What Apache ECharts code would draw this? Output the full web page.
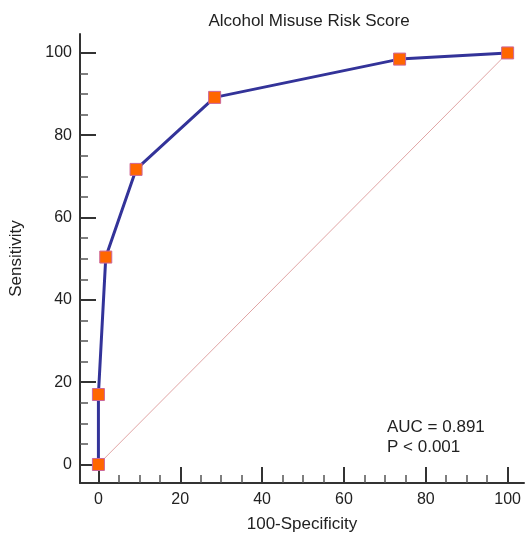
<!DOCTYPE html>
<html lang="en">
<head>
  <meta charset="UTF-8" />
  <title>Alcohol Misuse Risk Score</title>
  <script src="https://cdn.jsdelivr.net/npm/echarts@6.0.0/dist/echarts.min.js"></script>
  <style>
    html, body { margin: 0; padding: 0; background: #fff; }
    #chart { width: 526px; height: 533px; }
  </style>
</head>
<body>
  <div id="chart"></div>
  <script>
    // ROC points: [100-Specificity, Sensitivity]
    const rocX = [0, 0, 1.8, 9.2, 28.4, 73.6, 100];
    const rocY = [0, 17.0, 50.4, 71.7, 89.2, 98.5, 100];
    const diagonal = [[0, 0], [100, 100]];
    const majorTicks = [0, 20, 40, 60, 80, 100];
    const minorTicks = [5, 10, 15, 25, 30, 35, 45, 50, 55, 65, 70, 75, 85, 90, 95];
    const aucLines = ['AUC = 0.891', 'P < 0.001'];

    const font = 'Liberation Sans, Arial, sans-serif';
    const axisColor = '#333';

    function majorAxis(isX, name) {
      return {
        type: 'value',
        position: isX ? 'bottom' : 'left',
        min: -4.5,
        max: isX ? 104 : 104.6,
        name: name,
        nameLocation: 'middle',
        nameGap: isX ? 33 : 55,
        nameTextStyle: { fontFamily: font, fontSize: 17, color: '#222' },
        axisLine: { show: true, onZero: false, lineStyle: { color: axisColor, width: 2 } },
        axisTick: { show: true, inside: true, length: 16, customValues: majorTicks,
          lineStyle: { color: axisColor, width: 2 } },
        axisLabel: { customValues: majorTicks, margin: isX ? 9 : 8, fontFamily: font, fontSize: 16, color: '#222' },
        splitLine: { show: false }
      };
    }

    function minorAxis(isX) {
      return {
        type: 'value',
        position: isX ? 'bottom' : 'left',
        min: -4.5,
        max: isX ? 104 : 104.6,
        axisLine: { show: false, onZero: false },
        axisTick: { show: true, inside: true, length: 8, customValues: minorTicks,
          lineStyle: { color: '#555', width: 1.5 } },
        axisLabel: { show: false },
        splitLine: { show: false }
      };
    }

    const chart = echarts.init(document.getElementById('chart'));
    chart.setOption({
      animation: false,
      title: {
        text: 'Alcohol Misuse Risk Score',
        left: 304, top: 8, textAlign: 'center',
        textStyle: { fontFamily: font, fontSize: 17, fontWeight: 'normal', color: '#222' }
      },
      grid: { left: 80, right: 2, top: 34, bottom: 50, outerBoundsMode: 'none' },
      xAxis: [majorAxis(true, '100-Specificity'), minorAxis(true)],
      yAxis: [majorAxis(false, 'Sensitivity'), minorAxis(false)],
      series: [
        {
          type: 'line',
          data: diagonal,
          symbol: 'none',
          lineStyle: { color: '#e0a4a4', width: 1 },
          z: 1
        },
        {
          type: 'line',
          data: rocX.map((x, i) => [x, rocY[i]]),
          symbol: 'rect',
          symbolSize: 12,
          itemStyle: { color: '#ff6600', borderColor: '#cc6699', borderWidth: 1 },
          lineStyle: { color: '#333399', width: 3 },
          z: 3
        }
      ],
      graphic: [{
        type: 'text',
        left: 387, top: 417,
        style: {
          text: aucLines.join('\n'),
          fontFamily: font, fontSize: 17, lineHeight: 20, fill: '#222'
        }
      }]
    });
  </script>
</body>
</html>
